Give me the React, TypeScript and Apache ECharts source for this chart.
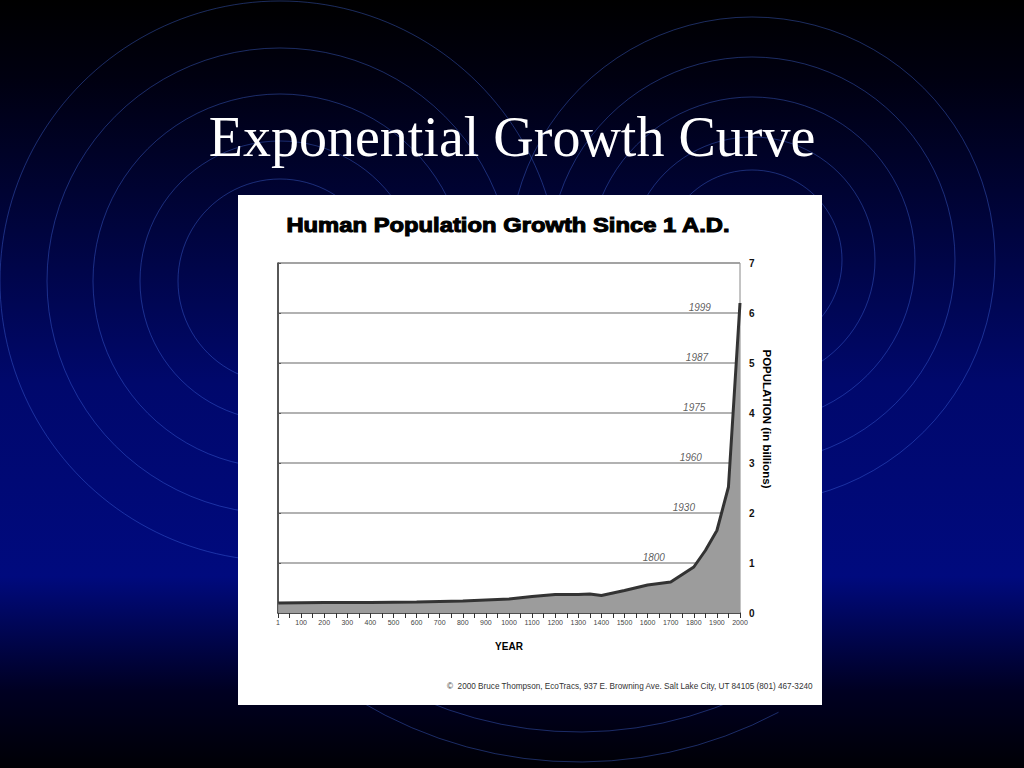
import React, { useEffect, useRef } from "react";
import * as echarts from "echarts";

// ---- data ----
const years = [1, 200, 400, 600, 800, 1000, 1100, 1200, 1300, 1350, 1400, 1500, 1600, 1700, 1750, 1800, 1850, 1900, 1950, 2000];
const population = [0.2, 0.21, 0.21, 0.22, 0.24, 0.28, 0.33, 0.37, 0.37, 0.38, 0.35, 0.45, 0.56, 0.62, 0.77, 0.92, 1.25, 1.65, 2.52, 6.2];
const milestoneYears = [1800, 1930, 1960, 1975, 1987, 1999];
const milestoneBillions = [1, 2, 3, 4, 5, 6];
const yTicks = [0, 1, 2, 3, 4, 5, 6, 7];

const slideTitle = "Exponential Growth Curve";
const chartTitle = "Human Population Growth Since 1 A.D.";
const xName = "YEAR";
const yName = "POPULATION (in billions)";
const footer = "©  2000 Bruce Thompson, EcoTracs, 937 E. Browning Ave. Salt Lake City, UT 84105 (801) 467-3240";

const leftRings = [102, 140, 187, 233, 280];
const rightRings = [90, 123, 163, 203, 243];
const lowerRings = [395, 425];

export default function App() {
  const ref = useRef<HTMLDivElement>(null);
  useEffect(() => {
    if (!ref.current) return;
    const chart = echarts.init(ref.current, undefined, { renderer: "svg" });
    const ringStroke = "rgba(70,110,230,0.4)";
    const rings: any[] = [];
    leftRings.forEach((r) => rings.push({ type: "circle", z: -9, shape: { cx: 280, cy: 281, r }, style: { fill: "none", stroke: ringStroke, lineWidth: 1 } }));
    rightRings.forEach((r) => rings.push({ type: "circle", z: -9, shape: { cx: 752, cy: 260, r }, style: { fill: "none", stroke: ringStroke, lineWidth: 1 } }));
    lowerRings.forEach((r) =>
      rings.push({
        type: "arc",
        z: -9,
        shape: { cx: 579, cy: 337, r, startAngle: (62 * Math.PI) / 180, endAngle: (125 * Math.PI) / 180, clockwise: true },
        style: { fill: "none", stroke: ringStroke, lineWidth: 1 },
      })
    );

    chart.setOption({
      animation: false,
      graphic: [
        {
          type: "rect",
          z: -10,
          shape: { x: 0, y: 0, width: 1024, height: 768 },
          style: {
            fill: new echarts.graphic.LinearGradient(0, 0, 0, 1, [
              { offset: 0, color: "#000000" },
              { offset: 0.1, color: "#000010" },
              { offset: 0.5, color: "#00086c" },
              { offset: 0.75, color: "#000a7e" },
              { offset: 0.9, color: "#000022" },
              { offset: 1, color: "#000005" },
            ]),
          },
        },
        ...rings,
        {
          type: "rect",
          z: -8,
          shape: { x: 238, y: 195, width: 584, height: 510 },
          style: { fill: "#ffffff" },
        },
        {
          type: "text",
          z: 20,
          x: 512,
          y: 137,
          style: {
            text: slideTitle,
            fill: "#ffffff",
            font: "56px 'Liberation Serif', 'Times New Roman', serif",
            align: "center",
            verticalAlign: "middle",
          },
        },
        {
          type: "text",
          z: 20,
          x: 508,
          y: 225,
          scaleX: 1.22,
          style: {
            text: chartTitle,
            fill: "#000000",
            stroke: "#000000",
            lineWidth: 1,
            font: "bold 19.5px 'Liberation Sans', Arial, sans-serif",
            align: "center",
            verticalAlign: "middle",
          },
        },
        {
          type: "text",
          z: 20,
          x: 767,
          y: 419,
          rotation: -Math.PI / 2,
          style: {
            text: yName,
            fill: "#000000",
            font: "bold 11.5px 'Liberation Sans', Arial, sans-serif",
            align: "center",
            verticalAlign: "middle",
          },
        },
        {
          type: "text",
          z: 20,
          x: 447,
          y: 686,
          style: {
            text: footer,
            fill: "#333333",
            font: "8.2px 'Liberation Sans', Arial, sans-serif",
            align: "left",
            verticalAlign: "middle",
          },
        },
      ],
      grid: {
        left: 278,
        top: 263,
        width: 462,
        height: 350,
        show: true,
        z: 5,
        borderColor: "#888888",
        borderWidth: 1,
        backgroundColor: "transparent",
      },
      xAxis: {
        type: "value",
        min: 0,
        max: 2000,
        interval: 100,
        z: 6,
        name: xName,
        nameLocation: "middle",
        nameGap: 28,
        nameTextStyle: { fontFamily: "'Liberation Sans', Arial, sans-serif", fontWeight: "bold", fontSize: 10, color: "#000" },
        axisLine: { show: true, onZero: false, lineStyle: { color: "#333", width: 1.5 } },
        axisTick: { show: true, length: 5, lineStyle: { color: "#333" } },
        minorTick: { show: true, splitNumber: 2, length: 5, lineStyle: { color: "#333" } },
        splitLine: { show: false },
        axisLabel: {
          fontSize: 7,
          color: "#444",
          fontFamily: "'Liberation Sans', Arial, sans-serif",
          margin: 6,
          showMinLabel: true,
          showMaxLabel: true,
          formatter: (v: number) => (v === 0 ? "1" : String(v)),
        },
      },
      yAxis: {
        type: "value",
        position: "right",
        min: yTicks[0],
        max: yTicks[yTicks.length - 1],
        interval: 1,
        z: 6,
        axisLine: { show: true, lineStyle: { color: "#333", width: 1.5 } },
        axisTick: { show: true, length: 3, lineStyle: { color: "#555" } },
        splitLine: { show: true, lineStyle: { color: "#999", width: 1.5 } },
        axisLabel: {
          fontSize: 10,
          fontWeight: "bold",
          color: "#111",
          margin: 9,
          fontFamily: "'Liberation Sans', Arial, sans-serif",
        },
      },
      series: [
        {
          type: "line",
          z: 7,
          data: years.map((y, i) => [y, population[i]]),
          symbol: "none",
          lineStyle: { color: "#333333", width: 3 },
          areaStyle: { color: "#9c9c9c", opacity: 1 },
        },
        {
          type: "scatter",
          z: 8,
          data: milestoneYears.map((y, i) => [y, milestoneBillions[i]]),
          symbolSize: 0,
          label: {
            show: true,
            position: "top",
            distance: 1,
            offset: [-40, 0],
            formatter: (p: any) => String(p.value[0]),
            fontSize: 10,
            fontStyle: "italic",
            color: "#333",
            fontFamily: "'Liberation Sans', Arial, sans-serif",
          },
          silent: true,
        },
      ],
    });
    return () => chart.dispose();
  }, []);
  return <div ref={ref} style={{ position: "absolute", left: 0, top: 0, width: 1024, height: 768 }} />;
}
